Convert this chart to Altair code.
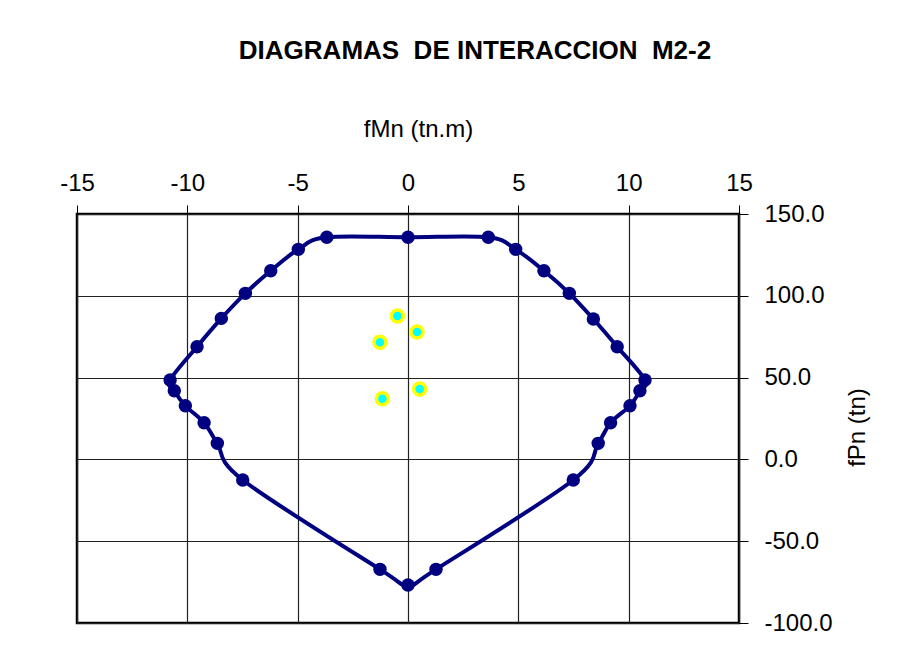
import altair as alt
import pandas as pd

# Interaction curve (closed loop, clockwise from top centre)
curve_m = [0, 3.64, 4.88, 6.16, 7.31, 8.40, 9.48, 10.74, 10.51, 10.06, 9.18, 8.62, 7.49, 1.27, 0,
           -1.27, -7.49, -8.64, -9.24, -10.09, -10.59, -10.78, -9.56, -8.46, -7.37, -6.22, -4.97, -3.68]
curve_p = [135.8, 135.8, 128.4, 115.3, 101.5, 85.8, 68.9, 48.5, 42.0, 32.8, 22.4, 9.8, -12.6, -67.2, -76.8,
           -67.2, -12.6, 9.8, 22.4, 32.8, 42.0, 48.5, 68.9, 86.2, 101.5, 115.3, 128.4, 135.8]

# Demand points
load_m = [-0.48, 0.41, -1.27, 0.53, -1.16]
load_p = [87.7, 77.9, 71.6, 43.0, 37.1]

x_ticks = [-15, -10, -5, 0, 5, 10, 15]
y_ticks = [-100, -50, 0, 50, 100, 150]

curve_df = pd.DataFrame({"m": curve_m, "p": curve_p, "i": list(range(len(curve_m)))})
load_df = pd.DataFrame({"m": load_m, "p": load_p})

FONT = "Liberation Sans"
HYPHEN = "replace(datum.label, '\u2212', '-')"

x_enc = alt.X(
    "m:Q",
    scale=alt.Scale(domain=[-15, 15], nice=False, zero=False),
    axis=alt.Axis(
        orient="top", values=x_ticks, format="d", labelExpr=HYPHEN, title="fMn (tn.m)",
        labelFont=FONT, labelFontSize=24, labelColor="black", labelPadding=10, labelFlush=False,
        titleFont=FONT, titleFontSize=24, titleFontWeight="normal", titleColor="black",
        titleX=341, titleY=-78, titleBaseline="alphabetic", titleAlign="center",
        tickSize=9, tickColor="black", tickWidth=1, domain=False,
        grid=True, gridColor="#222222", gridWidth=1.2, gridOpacity=1,
    ),
)
y_enc = alt.Y(
    "p:Q",
    scale=alt.Scale(domain=[-100, 150], nice=False, zero=False),
    axis=alt.Axis(
        orient="right", values=y_ticks, format=".1f", labelExpr=HYPHEN, title="fPn (tn)",
        labelFont=FONT, labelFontSize=24, labelColor="black", labelPadding=16, labelAlign="left",
        labelFlush=False,
        titleFont=FONT, titleFontSize=24, titleFontWeight="normal", titleColor="black",
        titleAngle=270, titleX=118, titleY=213, titleAlign="center", titleBaseline="middle",
        tickSize=9, tickColor="black", tickWidth=1, domain=False,
        grid=True, gridColor="#222222", gridWidth=1.2, gridOpacity=1,
    ),
)

line = alt.Chart(curve_df).mark_line(
    color="#000080", strokeWidth=4, interpolate="cardinal-closed", tension=0
).encode(x=x_enc, y=y_enc, order=alt.Order("i:Q"))

dots = alt.Chart(curve_df).mark_point(
    filled=True, color="#000080", size=180, opacity=1
).encode(x="m:Q", y="p:Q")

loads = alt.Chart(load_df).mark_point(
    filled=True, fill="#00FFFF", stroke="#FFFF00", strokeWidth=3.5, size=145, opacity=1
).encode(x="m:Q", y="p:Q")

chart = alt.layer(line, dots, loads).properties(
    width=662,
    height=409,
    autosize=alt.AutoSizeParams(type="none"),
    padding={"left": 69, "top": 206, "right": 160, "bottom": 40},
    title=alt.Title(
        "DIAGRAMAS \u00a0DE INTERACCION \u00a0M2-2",
        font=FONT, fontSize=26, fontWeight="bold", color="black",
        anchor="middle", dx=67, offset=53,
    ),
).configure(background="white").configure_view(stroke="black", strokeWidth=2.5)

chart.save("out.html", embed_options={"renderer": "svg", "actions": False})
